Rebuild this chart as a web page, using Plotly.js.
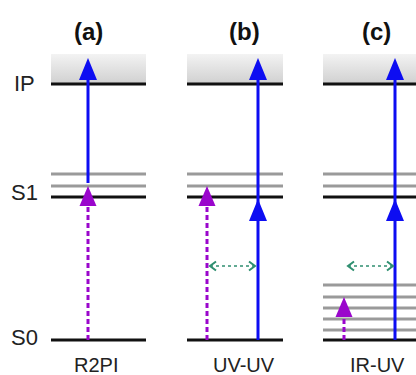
<!DOCTYPE html>
<html>
<head>
<meta charset="utf-8">
<script src="https://cdn.plot.ly/plotly-3.0.1.min.js"></script>
<style>html,body{margin:0;padding:0;background:#fff;overflow:hidden}#chart{width:416px;height:375px}</style>
</head>
<body>
<div id="chart"></div>
<script>
// ---- data (energy in arbitrary units, S0 = 0) ----
const panelTitles = ['(a)', '(b)', '(c)'];
const methodLabels = ['R2PI', 'UV-UV', 'IR-UV'];
const panelLeft = [51, 187, 323];
const panelRight = [146, 283, 420];
const levelNames = ['S0', 'S1', 'IP'];
const levelEnergy = [0, 143, 256];
const s1VibLevels = [154, 166];
const s0VibLevelsC = [10, 21, 32, 43, 55];
const ionContinuumTop = 286;
const probeX = [88, 258, 395];          // blue UV probe / ionisation arrows
const probeStart = [157, 0, 0];
const probeS1Tip = [null, 141, 141];
const ionTip = [282, 282, 282];
const pumpX = [88, 207, 344];           // purple pump arrows
const pumpTip = [154, 154, 43];
const delayFrom = [null, 210, 348];     // green double-headed arrows
const delayTo = [null, 255, 393];
const delayEnergy = 74;

// ---- styles ----
const BLUE = '#0d0df2', PURPLE = '#9a06cc', GREEN = '#2f8f70';
const GRAY = '#9a9a9a', BLACK = '#111111';
const traces = [];
function hline(x0, x1, y, color, w) {
  traces.push({x: [x0, x1], y: [y, y], mode: 'lines', line: {color: color, width: w}, hoverinfo: 'skip'});
}
function vline(x, y0, y1, color, w, dash) {
  traces.push({x: [x, x], y: [y0, y1], mode: 'lines', line: {color: color, width: w, dash: dash || 'solid'}, hoverinfo: 'skip'});
}
function head(x, tip, w, len, color) {
  traces.push({x: [x - w / 2, x, x + w / 2, x - w / 2], y: [tip - len, tip, tip - len, tip - len],
    mode: 'lines', fill: 'toself', fillcolor: color, line: {color: color, width: 0}, hoverinfo: 'skip'});
}

// ionisation continuum boxes
for (let i = 0; i < 3; i++) {
  traces.push({
    x: [panelLeft[i], panelRight[i], panelRight[i], panelLeft[i], panelLeft[i]],
    y: [levelEnergy[2], levelEnergy[2], ionContinuumTop, ionContinuumTop, levelEnergy[2]],
    mode: 'lines', line: {width: 0, color: 'rgba(0,0,0,0)'}, fill: 'toself',
    fillcolor: '#e0e0e0',
    fillgradient: {type: 'vertical', start: levelEnergy[2], stop: ionContinuumTop,
      colorscale: [[0, '#d0d0d0'], [1, '#f3f3f3']]},
    hoverinfo: 'skip'
  });
}
// vibrational levels
for (let i = 0; i < 3; i++) {
  s1VibLevels.forEach(e => hline(panelLeft[i], panelRight[i], e, GRAY, 3));
}
s0VibLevelsC.forEach(e => hline(panelLeft[2], panelRight[2], e, GRAY, 3));
// electronic levels
for (let i = 0; i < 3; i++) {
  levelEnergy.forEach(e => hline(panelLeft[i], panelRight[i], e, BLACK, 3));
}
// pump arrows (dashed purple)
const PL = 20, PW = 17;
for (let i = 0; i < 3; i++) {
  vline(pumpX[i], levelEnergy[0], pumpTip[i] - PL + 1, PURPLE, 3, '5px,3px');
  head(pumpX[i], pumpTip[i], PW, PL, PURPLE);
}
// probe arrows (blue)
const BL = 22, BW = 18;
for (let i = 0; i < 3; i++) {
  vline(probeX[i], probeStart[i], ionTip[i] - BL + 1, BLUE, 3);
  head(probeX[i], ionTip[i], BW, BL, BLUE);
  if (probeS1Tip[i] !== null) head(probeX[i], probeS1Tip[i], BW, BL, BLUE);
}
// delay arrows (green dotted, open chevrons)
for (let i = 0; i < 3; i++) {
  if (delayFrom[i] === null) continue;
  traces.push({x: [delayFrom[i], delayTo[i]], y: [delayEnergy, delayEnergy], mode: 'lines',
    line: {color: GREEN, width: 1.5, dash: 'dot'}, hoverinfo: 'skip'});
  traces.push({x: [delayFrom[i] + 6, delayFrom[i], delayFrom[i] + 6], y: [delayEnergy + 4.5, delayEnergy, delayEnergy - 4.5],
    mode: 'lines', line: {color: GREEN, width: 2}, hoverinfo: 'skip'});
  traces.push({x: [delayTo[i] - 6, delayTo[i], delayTo[i] - 6], y: [delayEnergy + 4.5, delayEnergy, delayEnergy - 4.5],
    mode: 'lines', line: {color: GREEN, width: 2}, hoverinfo: 'skip'});
}

const FONT = '"Liberation Sans", Arial, sans-serif';
const annotations = [];
const labelOffset = [3, 5, 1];
levelNames.forEach((n, k) => annotations.push({x: 24, y: levelEnergy[k] + labelOffset[k], text: n, showarrow: false,
  xanchor: 'center', yanchor: 'middle', font: {family: FONT, size: 22, color: '#222'}}));
for (let i = 0; i < 3; i++) {
  annotations.push({x: [88, 244, 376][i], y: 309, text: '<b>' + panelTitles[i] + '</b>', showarrow: false,
    xanchor: 'center', yanchor: 'middle', font: {family: FONT, size: 24, color: '#111'}});
  annotations.push({x: [96, 244, 377][i], y: -25, text: methodLabels[i], showarrow: false,
    xanchor: 'center', yanchor: 'middle', font: {family: FONT, size: 20, color: '#222'}});
}

const layout = {
  width: 416, height: 375,
  margin: {l: 0, r: 0, t: 0, b: 0},
  paper_bgcolor: '#fff', plot_bgcolor: '#fff',
  showlegend: false, hovermode: false,
  xaxis: {range: [0, 416], visible: false, fixedrange: true},
  yaxis: {range: [-35, 340], visible: false, fixedrange: true},
  annotations: annotations
};
Plotly.newPlot('chart', traces, layout, {staticPlot: true, displayModeBar: false});
</script>
</body>
</html>
